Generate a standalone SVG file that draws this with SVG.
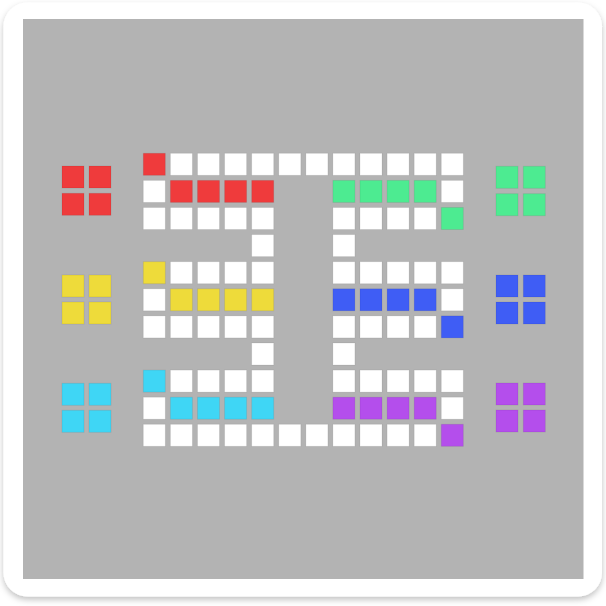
<svg xmlns="http://www.w3.org/2000/svg" width="606" height="606" viewBox="0 0 606 606">
<defs>
<filter id="sh" x="-5%" y="-5%" width="110%" height="112%">
<feDropShadow dx="0" dy="3" stdDeviation="3" flood-color="#000" flood-opacity="0.25"/>
</filter>
<style>
.c{stroke:rgba(0,0,0,0.07);stroke-width:1}
.w{fill:#ffffff}
.r{fill:#ef3b3c}
.g{fill:#4deb91}
.y{fill:#eedb3a}
.b{fill:#3f5df5}
.cy{fill:#3fd6f5}
.p{fill:#b44eec}
</style>
</defs>
<rect x="3.5" y="2.5" width="598.5" height="594" rx="24" fill="#ffffff" filter="url(#sh)"/>
<rect x="23" y="19" width="560.5" height="560" fill="#b3b3b3"/>
<g id="track">
<!-- row 0 -->
<rect class="c r" x="143.3" y="153.3" width="22" height="22"/>
<rect class="c w" x="170.4" y="153.3" width="22" height="22"/>
<rect class="c w" x="197.5" y="153.3" width="22" height="22"/>
<rect class="c w" x="224.6" y="153.3" width="22" height="22"/>
<rect class="c w" x="251.7" y="153.3" width="22" height="22"/>
<rect class="c w" x="278.8" y="153.3" width="22" height="22"/>
<rect class="c w" x="305.9" y="153.3" width="22" height="22"/>
<rect class="c w" x="332.9" y="153.3" width="22" height="22"/>
<rect class="c w" x="360" y="153.3" width="22" height="22"/>
<rect class="c w" x="387.1" y="153.3" width="22" height="22"/>
<rect class="c w" x="414.2" y="153.3" width="22" height="22"/>
<rect class="c w" x="441.3" y="153.3" width="22" height="22"/>
<!-- row 1 -->
<rect class="c w" x="143.3" y="180.4" width="22" height="22"/>
<rect class="c r" x="170.4" y="180.4" width="22" height="22"/>
<rect class="c r" x="197.5" y="180.4" width="22" height="22"/>
<rect class="c r" x="224.6" y="180.4" width="22" height="22"/>
<rect class="c r" x="251.7" y="180.4" width="22" height="22"/>
<rect class="c g" x="332.9" y="180.4" width="22" height="22"/>
<rect class="c g" x="360" y="180.4" width="22" height="22"/>
<rect class="c g" x="387.1" y="180.4" width="22" height="22"/>
<rect class="c g" x="414.2" y="180.4" width="22" height="22"/>
<rect class="c w" x="441.3" y="180.4" width="22" height="22"/>
<!-- row 2 -->
<rect class="c w" x="143.3" y="207.5" width="22" height="22"/>
<rect class="c w" x="170.4" y="207.5" width="22" height="22"/>
<rect class="c w" x="197.5" y="207.5" width="22" height="22"/>
<rect class="c w" x="224.6" y="207.5" width="22" height="22"/>
<rect class="c w" x="251.7" y="207.5" width="22" height="22"/>
<rect class="c w" x="332.9" y="207.5" width="22" height="22"/>
<rect class="c w" x="360" y="207.5" width="22" height="22"/>
<rect class="c w" x="387.1" y="207.5" width="22" height="22"/>
<rect class="c w" x="414.2" y="207.5" width="22" height="22"/>
<rect class="c g" x="441.3" y="207.5" width="22" height="22"/>
<!-- row 3 -->
<rect class="c w" x="251.7" y="234.6" width="22" height="22"/>
<rect class="c w" x="332.9" y="234.6" width="22" height="22"/>
<!-- row 4 -->
<rect class="c y" x="143.3" y="261.7" width="22" height="22"/>
<rect class="c w" x="170.4" y="261.7" width="22" height="22"/>
<rect class="c w" x="197.5" y="261.7" width="22" height="22"/>
<rect class="c w" x="224.6" y="261.7" width="22" height="22"/>
<rect class="c w" x="251.7" y="261.7" width="22" height="22"/>
<rect class="c w" x="332.9" y="261.7" width="22" height="22"/>
<rect class="c w" x="360" y="261.7" width="22" height="22"/>
<rect class="c w" x="387.1" y="261.7" width="22" height="22"/>
<rect class="c w" x="414.2" y="261.7" width="22" height="22"/>
<rect class="c w" x="441.3" y="261.7" width="22" height="22"/>
<!-- row 5 -->
<rect class="c w" x="143.3" y="288.8" width="22" height="22"/>
<rect class="c y" x="170.4" y="288.8" width="22" height="22"/>
<rect class="c y" x="197.5" y="288.8" width="22" height="22"/>
<rect class="c y" x="224.6" y="288.8" width="22" height="22"/>
<rect class="c y" x="251.7" y="288.8" width="22" height="22"/>
<rect class="c b" x="332.9" y="288.8" width="22" height="22"/>
<rect class="c b" x="360" y="288.8" width="22" height="22"/>
<rect class="c b" x="387.1" y="288.8" width="22" height="22"/>
<rect class="c b" x="414.2" y="288.8" width="22" height="22"/>
<rect class="c w" x="441.3" y="288.8" width="22" height="22"/>
<!-- row 6 -->
<rect class="c w" x="143.3" y="315.9" width="22" height="22"/>
<rect class="c w" x="170.4" y="315.9" width="22" height="22"/>
<rect class="c w" x="197.5" y="315.9" width="22" height="22"/>
<rect class="c w" x="224.6" y="315.9" width="22" height="22"/>
<rect class="c w" x="251.7" y="315.9" width="22" height="22"/>
<rect class="c w" x="332.9" y="315.9" width="22" height="22"/>
<rect class="c w" x="360" y="315.9" width="22" height="22"/>
<rect class="c w" x="387.1" y="315.9" width="22" height="22"/>
<rect class="c w" x="414.2" y="315.9" width="22" height="22"/>
<rect class="c b" x="441.3" y="315.9" width="22" height="22"/>
<!-- row 7 -->
<rect class="c w" x="251.7" y="343" width="22" height="22"/>
<rect class="c w" x="332.9" y="343" width="22" height="22"/>
<!-- row 8 -->
<rect class="c cy" x="143.3" y="370.1" width="22" height="22"/>
<rect class="c w" x="170.4" y="370.1" width="22" height="22"/>
<rect class="c w" x="197.5" y="370.1" width="22" height="22"/>
<rect class="c w" x="224.6" y="370.1" width="22" height="22"/>
<rect class="c w" x="251.7" y="370.1" width="22" height="22"/>
<rect class="c w" x="332.9" y="370.1" width="22" height="22"/>
<rect class="c w" x="360" y="370.1" width="22" height="22"/>
<rect class="c w" x="387.1" y="370.1" width="22" height="22"/>
<rect class="c w" x="414.2" y="370.1" width="22" height="22"/>
<rect class="c w" x="441.3" y="370.1" width="22" height="22"/>
<!-- row 9 -->
<rect class="c w" x="143.3" y="397.2" width="22" height="22"/>
<rect class="c cy" x="170.4" y="397.2" width="22" height="22"/>
<rect class="c cy" x="197.5" y="397.2" width="22" height="22"/>
<rect class="c cy" x="224.6" y="397.2" width="22" height="22"/>
<rect class="c cy" x="251.7" y="397.2" width="22" height="22"/>
<rect class="c p" x="332.9" y="397.2" width="22" height="22"/>
<rect class="c p" x="360" y="397.2" width="22" height="22"/>
<rect class="c p" x="387.1" y="397.2" width="22" height="22"/>
<rect class="c p" x="414.2" y="397.2" width="22" height="22"/>
<rect class="c w" x="441.3" y="397.2" width="22" height="22"/>
<!-- row 10 -->
<rect class="c w" x="143.3" y="424.3" width="22" height="22"/>
<rect class="c w" x="170.4" y="424.3" width="22" height="22"/>
<rect class="c w" x="197.5" y="424.3" width="22" height="22"/>
<rect class="c w" x="224.6" y="424.3" width="22" height="22"/>
<rect class="c w" x="251.7" y="424.3" width="22" height="22"/>
<rect class="c w" x="278.8" y="424.3" width="22" height="22"/>
<rect class="c w" x="305.9" y="424.3" width="22" height="22"/>
<rect class="c w" x="332.9" y="424.3" width="22" height="22"/>
<rect class="c w" x="360" y="424.3" width="22" height="22"/>
<rect class="c w" x="387.1" y="424.3" width="22" height="22"/>
<rect class="c w" x="414.2" y="424.3" width="22" height="22"/>
<rect class="c p" x="441.3" y="424.3" width="22" height="22"/>
</g>
<g id="home-red">
<rect class="c r" x="62" y="166" width="22" height="22"/>
<rect class="c r" x="89" y="166" width="22" height="22"/>
<rect class="c r" x="62" y="193.3" width="22" height="22"/>
<rect class="c r" x="89" y="193.3" width="22" height="22"/>
</g>
<g id="home-yellow">
<rect class="c y" x="62" y="275" width="22" height="22"/>
<rect class="c y" x="89" y="275" width="22" height="22"/>
<rect class="c y" x="62" y="302" width="22" height="22"/>
<rect class="c y" x="89" y="302" width="22" height="22"/>
</g>
<g id="home-cyan">
<rect class="c cy" x="62" y="383.3" width="22" height="22"/>
<rect class="c cy" x="89" y="383.3" width="22" height="22"/>
<rect class="c cy" x="62" y="410.3" width="22" height="22"/>
<rect class="c cy" x="89" y="410.3" width="22" height="22"/>
</g>
<g id="home-green">
<rect class="c g" x="496" y="166.3" width="22" height="22"/>
<rect class="c g" x="523.3" y="166.3" width="22" height="22"/>
<rect class="c g" x="496" y="193.7" width="22" height="22"/>
<rect class="c g" x="523.3" y="193.7" width="22" height="22"/>
</g>
<g id="home-blue">
<rect class="c b" x="496" y="275" width="22" height="22"/>
<rect class="c b" x="523.3" y="275" width="22" height="22"/>
<rect class="c b" x="496" y="302" width="22" height="22"/>
<rect class="c b" x="523.3" y="302" width="22" height="22"/>
</g>
<g id="home-purple">
<rect class="c p" x="496" y="383" width="22" height="22"/>
<rect class="c p" x="523.3" y="383" width="22" height="22"/>
<rect class="c p" x="496" y="410" width="22" height="22"/>
<rect class="c p" x="523.3" y="410" width="22" height="22"/>
</g>
</svg>
